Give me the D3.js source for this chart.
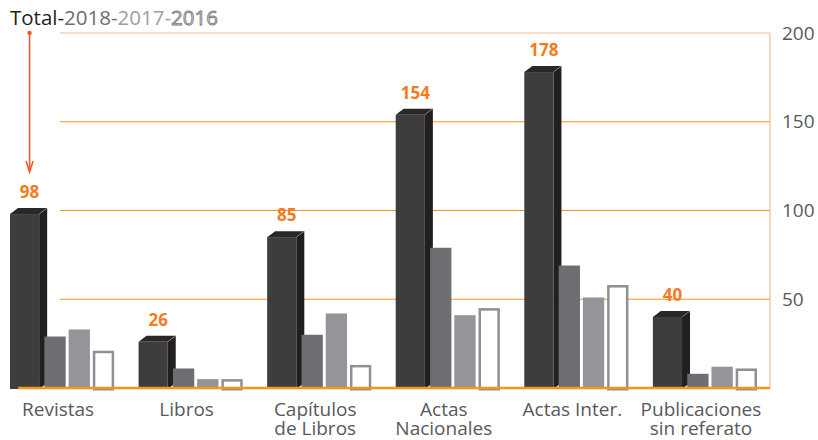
<!DOCTYPE html>
<html lang="es">
<head>
<meta charset="utf-8">
<title>Publicaciones</title>
<script src="https://d3js.org/d3.v7.min.js"></script>
<style>
  body { margin: 0; background: #fff; }
  svg text { font-family: "Open Sans", "Noto Sans", sans-serif; }
</style>
</head>
<body>
<div id="chart"></div>
<script>
// categorias (salto de linea = segunda linea de la etiqueta)
var categories = ["Revistas", "Libros", "Capítulos\nde Libros", "Actas\nNacionales", "Actas Inter.", "Publicaciones\nsin referato"];
var totals = [98, 26, 85, 154, 178, 40];
var years = ["2018", "2017", "2016"];
var v2018 = [29, 11, 30, 79, 69, 8];
var v2017 = [33, 5, 42, 41, 51, 12];
var v2016 = [21, 5, 13, 45, 58, 11];
var yTicks = [50, 100, 150, 200];

var w = 818, h = 440;
var svg = d3.select("#chart").append("svg")
    .attr("width", w)
    .attr("height", h);

var x = d3.scaleBand()
    .domain(categories)
    .range([10, 757])
    .paddingInner(0.19);
var bw = x.bandwidth();
var xYear = d3.scaleBand()
    .domain(years)
    .range([bw * 0.33, bw])
    .paddingInner(0.12);

var y = d3.scaleLinear().domain([0, 200]).range([388, 33]);

var totalW = bw * 0.28;   // ancho frente barra total
var depth = 8, rise = 6;  // efecto 3d

// lineas de grilla
svg.selectAll("line.grid")
    .data(yTicks)
    .enter().append("line")
    .attr("class", "grid")
    .attr("x1", 60).attr("x2", 770)
    .attr("y1", function(d) { return y(d); })
    .attr("y2", function(d) { return y(d); })
    .attr("stroke", function(d) { return d === 200 ? "#f8bd8a" : "#f7941d"; })
    .attr("stroke-width", 1.2);

svg.append("line")
    .attr("x1", 770).attr("x2", 770)
    .attr("y1", y(200)).attr("y2", y(0))
    .attr("stroke", "#f8bd8a")
    .attr("stroke-width", 1.2);

// eje derecho
var axis = svg.append("g")
    .attr("transform", "translate(770,0)")
    .call(d3.axisRight(y).tickValues(yTicks).tickSize(0).tickPadding(12));
axis.select(".domain").remove();
axis.selectAll("text")
    .attr("fill", "#58595b")
    .attr("font-size", 19)
    .attr("font-family", "Open Sans");

// grupos
var groups = svg.selectAll("g.group")
    .data(categories)
    .enter().append("g")
    .attr("class", "group")
    .attr("transform", function(d) { return "translate(" + x(d) + ",0)"; });

// barra total 3d
groups.each(function(d, i) {
    var g = d3.select(this);
    var top = y(totals[i]), base = y(0) + 1;
    g.append("path")
        .attr("d", "M" + totalW + "," + top + "L" + (totalW + depth) + "," + (top - rise) +
              "L" + (totalW + depth) + "," + (base - rise) + "L" + totalW + "," + base + "Z")
        .attr("fill", "#231f20");
    g.append("path")
        .attr("d", "M0," + top + "L" + depth + "," + (top - rise) + "L" + (totalW + depth) + "," + (top - rise) +
              "L" + totalW + "," + top + "Z")
        .attr("fill", "#2b2728");
    g.append("rect")
        .attr("x", 0).attr("y", top)
        .attr("width", totalW).attr("height", base - top)
        .attr("fill", "#3d3d3d");
    g.append("line")
        .attr("x1", totalW).attr("y1", top)
        .attr("x2", totalW + depth).attr("y2", top - rise)
        .attr("stroke", "#8a8a8a").attr("stroke-width", 0.7);
    g.append("text")
        .attr("x", (totalW + depth) / 2 + 1)
        .attr("y", top - 16)
        .attr("text-anchor", "middle")
        .attr("font-size", 17)
        .attr("font-weight", "bold")
        .attr("fill", "#f47b20")
        .text(totals[i]);
});

// linea base
svg.append("line")
    .attr("x1", x(categories[0]) + 8).attr("x2", 770)
    .attr("y1", y(0)).attr("y2", y(0))
    .attr("stroke", "#f7941d")
    .attr("stroke-width", 2.5);

// barras por anio
var series = [
    { key: "2018", values: v2018, fill: "#6d6e71", stroke: "none" },
    { key: "2017", values: v2017, fill: "#939598", stroke: "none" },
    { key: "2016", values: v2016, fill: "#ffffff", stroke: "#8f9093" }
];
series.forEach(function(s) {
    var inset = s.stroke === "none" ? 0 : 1.25;
    groups.append("rect")
        .attr("x", xYear(s.key) + inset)
        .attr("y", function(d, i) { return y(s.values[i]) + inset; })
        .attr("width", xYear.bandwidth() - 2 * inset)
        .attr("height", function(d, i) { return y(0) - y(s.values[i]); })
        .attr("fill", s.fill)
        .attr("stroke", s.stroke)
        .attr("stroke-width", 2.5);
});

// etiquetas de categoria
groups.append("text")
    .attr("x", bw / 2 - 4)
    .attr("y", 416)
    .attr("text-anchor", "middle")
    .attr("font-size", 19)
    .attr("fill", "#58595b")
    .selectAll("tspan")
    .data(function(d) { return d.split("\n"); })
    .enter().append("tspan")
    .attr("x", bw / 2 - 4)
    .attr("dy", function(d, i) { return i ? 19 : 0; })
    .text(function(d) { return d; });

// leyenda
var legend = svg.append("text")
    .attr("x", 10).attr("y", 25)
    .attr("font-size", 20.5);
legend.append("tspan").attr("fill", "#231f20").text("Total-");
legend.append("tspan").attr("fill", "#6d6e71").text("2018-");
legend.append("tspan").attr("fill", "#9d9fa2").text("2017-");
legend.append("tspan").attr("fill", "#d0d2d3").attr("stroke", "#77787b").attr("stroke-width", 0.8).text("2016");

// flecha
var ax = x(categories[0]) + (totalW + depth) / 2 + 1;
svg.append("circle")
    .attr("cx", ax).attr("cy", 33).attr("r", 2.2)
    .attr("fill", "#f15a29");
svg.append("line")
    .attr("x1", ax).attr("y1", 33)
    .attr("x2", ax).attr("y2", 171)
    .attr("stroke", "#f15a29").attr("stroke-width", 1.6);
svg.append("path")
    .attr("d", "M" + (ax - 3.5) + ",161L" + ax + ",172L" + (ax + 3.5) + ",161")
    .attr("fill", "none")
    .attr("stroke", "#f15a29").attr("stroke-width", 1.6);
</script>
</body>
</html>
